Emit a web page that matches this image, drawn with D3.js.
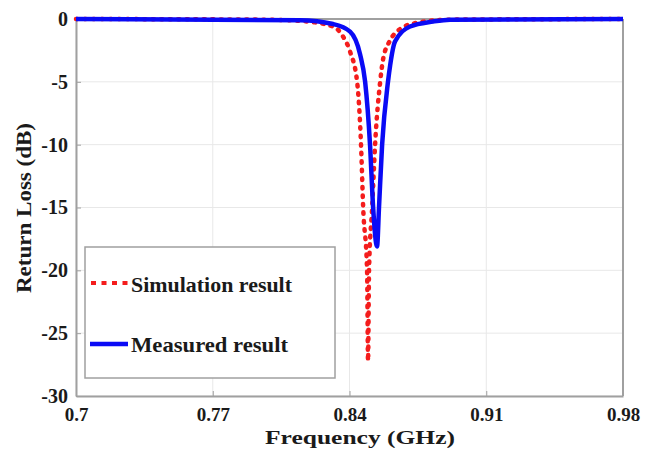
<!DOCTYPE html>
<html>
<head>
<meta charset="utf-8">
<script src="https://cdn.jsdelivr.net/npm/d3@7"></script>
<style>
  html, body { margin: 0; padding: 0; background: #fff; }
  svg { display: block; }
  text { font-family: "Liberation Serif", "Times New Roman", serif; font-weight: bold; fill: #1a1a1a; }
</style>
</head>
<body>
<svg id="chart" width="646" height="456"></svg>
<script>
// ---- Data ----
const xTicks = [0.7, 0.77, 0.84, 0.91, 0.98];
const xTickLabels = ["0.7", "0.77", "0.84", "0.91", "0.98"];
const yTicks = [0, -5, -10, -15, -20, -25, -30];
const yTickLabels = ["0", "-5", "-10", "-15", "-20", "-25", "-30"];

const simFreq = [0.70, 0.7942, 0.8147, 0.8316, 0.8367, 0.8403, 0.8439, 0.8459, 0.8470, 0.8490, 0.8495, 0.8500, 0.8516, 0.8531, 0.8557, 0.8572, 0.8608, 0.8659, 0.8746, 0.8915, 0.98];
const simRL   = [0.00, -0.05, -0.15, -0.6, -1.4, -2.6, -5.0, -10.0, -15.0, -20.0, -27.2, -20.0, -15.0, -10.0, -5.0, -3.2, -1.7, -0.8, -0.3, -0.05, 0.00];

const measFreq = [0.70, 0.8147, 0.8316, 0.8403, 0.8454, 0.8480, 0.8505, 0.8521, 0.8541, 0.8551, 0.8567, 0.8597, 0.8608, 0.8633, 0.8710, 0.8828, 0.8915, 0.98];
const measRL   = [0.00, -0.1, -0.4, -1.0, -2.8, -5.0, -10.0, -15.0, -18.1, -15.0, -10.0, -5.0, -3.7, -1.8, -0.6, -0.2, -0.05, 0.00];

const seriesNames = ["Simulation result", "Measured result"];

// ---- Layout ----
const svg = d3.select("#chart");
const L = 76, R = 623, T = 19, B = 396;
const x = d3.scaleLinear().domain([0.7, 0.98]).range([L, R]);
const y = d3.scaleLinear().domain([-30, 0]).range([B, T]);
const axisGray = "#a0a0a0";

svg.append("rect").attr("width", 646).attr("height", 456).attr("fill", "#fff");

// grid
const g = svg.append("g");
g.selectAll(".vg").data(xTicks).enter().append("line")
  .attr("x1", d => x(d)).attr("x2", d => x(d)).attr("y1", T).attr("y2", B)
  .attr("stroke", "#e8e8e8").attr("stroke-width", 1);
g.selectAll(".hg").data(yTicks).enter().append("line")
  .attr("y1", d => y(d)).attr("y2", d => y(d)).attr("x1", L).attr("x2", R)
  .attr("stroke", "#e8e8e8").attr("stroke-width", 1);

// axes
const xAxis = d3.axisBottom(x).tickValues(xTicks).tickFormat((d, i) => xTickLabels[i]).tickSizeInner(-5).tickSizeOuter(0).tickPadding(12);
const yAxis = d3.axisLeft(y).tickValues(yTicks).tickFormat((d, i) => yTickLabels[i]).tickSizeInner(-5).tickSizeOuter(0).tickPadding(8);

const gx = svg.append("g").attr("transform", `translate(0,${B})`).call(xAxis);
const gy = svg.append("g").attr("transform", `translate(${L},0)`).call(yAxis);
[gx, gy].forEach(a => {
  a.select(".domain").attr("stroke", axisGray).attr("stroke-width", 2);
  a.selectAll(".tick line").attr("stroke", axisGray).attr("stroke-width", 1);
  a.selectAll("text").attr("font-size", 20).attr("fill", "#1a1a1a")
    .attr("font-family", "'Liberation Serif', serif").attr("font-weight", "bold");
});
gx.selectAll("text").attr("font-size", 19);
// top & right box
svg.append("line").attr("x1", L).attr("x2", R).attr("y1", T).attr("y2", T).attr("stroke", axisGray).attr("stroke-width", 2);
svg.append("line").attr("x1", R).attr("x2", R).attr("y1", T).attr("y2", B).attr("stroke", axisGray).attr("stroke-width", 2);

// curves
const line = d3.line().x(d => x(d[0])).y(d => y(d[1])).curve(d3.curveMonotoneX);
const simData = simFreq.map((f, i) => [f, simRL[i]]);
const measData = measFreq.map((f, i) => [f, measRL[i]]);

svg.append("path").datum(simData).attr("d", line).attr("fill", "none")
  .attr("stroke", "#f41c1c").attr("stroke-width", 4.5).attr("stroke-linecap", "round").attr("stroke-dasharray", "1.5,7");
svg.append("path").datum(measData).attr("d", line).attr("fill", "none")
  .attr("stroke", "#0a0af5").attr("stroke-width", 4.5);

// legend
const lg = svg.append("g");
lg.append("rect").attr("x", 85).attr("y", 247).attr("width", 250).attr("height", 131)
  .attr("fill", "#fff").attr("stroke", axisGray).attr("stroke-width", 1.5);
lg.append("line").attr("x1", 91).attr("x2", 128).attr("y1", 283).attr("y2", 283)
  .attr("stroke", "#f41c1c").attr("stroke-width", 4).attr("stroke-dasharray", "5,5.5");
lg.append("text").attr("x", 131).attr("y", 292).attr("font-size", 22)
  .attr("textLength", 161).attr("lengthAdjust", "spacingAndGlyphs").text(seriesNames[0]);
lg.append("line").attr("x1", 90).attr("x2", 128).attr("y1", 344).attr("y2", 344)
  .attr("stroke", "#0a0af5").attr("stroke-width", 4.5);
lg.append("text").attr("x", 131).attr("y", 352).attr("font-size", 22)
  .attr("textLength", 157).attr("lengthAdjust", "spacingAndGlyphs").text(seriesNames[1]);

// axis labels
svg.append("text").attr("x", 360).attr("y", 444).attr("text-anchor", "middle")
  .attr("font-size", 18).attr("textLength", 190).attr("lengthAdjust", "spacingAndGlyphs").text("Frequency (GHz)");
svg.append("text").attr("transform", `translate(31,208) rotate(-90)`)
  .attr("text-anchor", "middle").attr("font-size", 20)
  .attr("textLength", 170).attr("lengthAdjust", "spacingAndGlyphs").text("Return Loss (dB)");
</script>
</body>
</html>
